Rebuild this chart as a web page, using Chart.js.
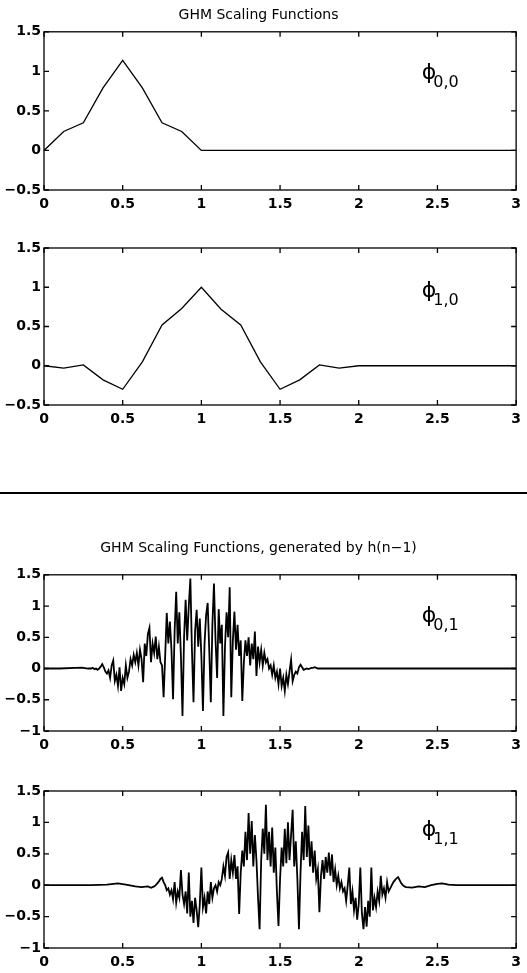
<!DOCTYPE html>
<html>
<head>
<meta charset="utf-8">
<script src="https://cdn.jsdelivr.net/npm/chart.js@4.4.0/dist/chart.umd.min.js"></script>
<style>
body { margin: 0; background: #fff; }
#page { position: relative; width: 527px; height: 973px; overflow: hidden; }
canvas { position: absolute; left: 0; }
#rule { position: absolute; left: 0; top: 492px; width: 527px; height: 2px; background: #000; }
</style>
</head>
<body>
<div id="page">
  <canvas id="c1" width="527" height="215" style="top:0px"></canvas>
  <canvas id="c2" width="527" height="216" style="top:214px"></canvas>
  <div id="rule"></div>
  <canvas id="c3" width="527" height="256" style="top:500px"></canvas>
  <canvas id="c4" width="527" height="217" style="top:756px"></canvas>
</div>
<script>
// tick labels
var xTicks = [0, 0.5, 1, 1.5, 2, 2.5, 3];
var yTicksTop = [-0.5, 0, 0.5, 1, 1.5];
var yTicksBottom = [-1, -0.5, 0, 0.5, 1, 1.5];

// phi_0,0 (first GHM scaling function)
var phi00X = [0, 0.125, 0.25, 0.375, 0.5, 0.625, 0.75, 0.875, 1, 3];
var phi00Y = [0, 0.24, 0.35, 0.79, 1.14, 0.79, 0.35, 0.24, 0, 0];

// phi_1,0
var phi10X = [0, 0.125, 0.25, 0.375, 0.5, 0.625, 0.75, 0.875, 1, 1.125, 1.25, 1.375, 1.5, 1.625, 1.75, 1.875, 2, 3];
var phi10Y = [0, -0.03, 0.01, -0.18, -0.3, 0.05, 0.52, 0.73, 1.0, 0.72, 0.52, 0.05, -0.3, -0.18, 0.01, -0.03, 0, 0];

// phi_0,1 (generated by h(n-1)): quiet tails + samples every 0.01 from 0.30 to 1.75
var phi01HeadX = [0, 0.1, 0.2, 0.24, 0.28];
var phi01HeadY = [0, 0, 0.01, 0.015, 0];
var phi01Start = 0.30, phi01Step = 0.01;
var phi01Y = [
  0, 0.01, -0.01, 0.00, -0.02, 0.00, 0.03, 0.07, 0.02, -0.05,
  -0.08, -0.03, -0.15, 0.05, 0.13, -0.20, -0.10, -0.28, 0.02, -0.36,
  -0.15, -0.25, 0.05, -0.15, -0.05, 0.15, 0.05, 0.22, 0.10, 0.25,
  0.05, 0.30, 0.15, -0.22, 0.40, 0.20, 0.55, 0.65, 0.10, 0.40,
  0.25, 0.51, 0.15, 0.35, 0.10, 0.05, -0.46, 0.20, 0.89, 0.40,
  0.75, 0.30, -0.49, 0.60, 1.23, 0.40, 0.90, 0.20, -0.76, 0.50,
  1.10, 0.45, 1.00, 1.44, 0.30, -0.54, 0.60, 0.94, 0.35, 0.80,
  0.20, -0.68, 0.40, 0.85, 1.05, 0.30, -0.54, 0.70, 1.36, 0.45,
  -0.15, 0.95, 0.40, 0.70, -0.76, 0.35, 0.90, 0.50, 1.30, -0.46,
  0.45, 0.91, 0.30, 0.70, 0.20, 0.45, -0.52, 0.10, 0.45, 0.20,
  0.50, 0.05, 0.40, 0.15, 0.59, -0.12, 0.35, 0.10, 0.30, 0.05,
  0.25, 0.10, 0.15, 0.00, 0.05, -0.10, 0.05, -0.15, -0.05, -0.25,
  0.00, -0.28, -0.15, -0.36, -0.10, -0.25, -0.05, 0.14, -0.20, -0.10,
  -0.05, -0.08, 0.02, 0.06, 0.02, -0.02, -0.01, 0.00, -0.01, 0.00,
  0.01, 0.01, 0.02, 0.01, 0.00, 0.00
];
var phi01TailX = [1.80, 3];
var phi01TailY = [0, 0];

// phi_1,1: samples every 0.01 from 0.70 to 2.30
var phi11HeadX = [0, 0.3, 0.4, 0.47, 0.52, 0.58, 0.62, 0.66, 0.68];
var phi11HeadY = [0, 0, 0.01, 0.03, 0.01, -0.02, -0.03, -0.02, -0.04];
var phi11Start = 0.70, phi11Step = 0.01;
var phi11Y = [
  -0.02, 0.00, 0.03, 0.06, 0.10, 0.12, 0.05, 0.00, -0.08, -0.05,
  -0.15, -0.08, -0.22, 0.05, -0.28, -0.10, -0.20, 0.24, -0.15, -0.30,
  -0.10, -0.45, 0.20, -0.50, -0.25, -0.60, -0.20, -0.40, -0.67, -0.30,
  0.28, -0.35, -0.20, -0.45, -0.10, -0.30, 0.05, -0.20, -0.05, 0.00,
  -0.10, 0.05, 0.00, 0.10, 0.30, 0.15, 0.45, 0.52, 0.10, 0.40,
  0.20, 0.48, 0.10, 0.30, -0.46, 0.20, 0.55, 0.30, 0.85, 0.40,
  1.15, 0.50, 1.02, 0.30, 0.80, 0.40, -0.20, -0.70, 0.40, 0.90,
  0.50, 1.28, 0.40, 0.85, 0.30, 0.92, 0.20, 0.60, -0.10, -0.65,
  0.10, 0.60, 0.30, 0.90, 0.35, 1.00, 0.40, 0.80, 1.20, 0.30,
  0.70, 0.10, -0.70, 0.20, 0.85, 0.40, 1.26, 0.45, 0.95, 0.30,
  0.70, 0.20, 0.55, 0.10, 0.25, -0.43, 0.15, 0.40, 0.10, 0.45,
  0.20, 0.52, 0.15, 0.49, 0.05, 0.25, 0.00, 0.15, -0.05, 0.05,
  -0.10, -0.05, -0.25, 0.00, 0.28, -0.30, -0.10, -0.40, -0.20, -0.55,
  -0.30, 0.28, -0.45, -0.70, -0.35, -0.66, -0.25, -0.50, 0.28, -0.40,
  -0.20, -0.35, -0.10, -0.25, 0.15, -0.15, -0.05, -0.20, 0.05, -0.10,
  -0.05, 0.00, 0.05, 0.08, 0.11, 0.13, 0.08, 0.03, 0.00, -0.02,
  -0.03
];
var phi11TailX = [2.34, 2.38, 2.42, 2.46, 2.5, 2.53, 2.57, 2.62, 3];
var phi11TailY = [-0.04, -0.02, -0.03, 0, 0.02, 0.03, 0.01, 0, 0];

function pairs(xs, ys) {
  return xs.map(function (x, i) { return { x: x, y: ys[i] }; });
}
function sampled(start, step, ys) {
  return ys.map(function (y, i) { return { x: +(start + i * step).toFixed(3), y: y }; });
}
function tickText(v) {
  return String(v).replace('-', '\u2212');
}

var font = '"DejaVu Sans", sans-serif';

// box round the plot with inward ticks on all four sides, plus the phi label
var framePlugin = {
  id: 'frame',
  afterDatasetsDraw: function (chart, args, opts) {
    var ctx = chart.ctx, a = chart.chartArea;
    var xs = chart.scales.x, ys = chart.scales.y;
    ctx.save();
    ctx.strokeStyle = '#000';
    ctx.lineWidth = 1.3;
    ctx.strokeRect(a.left, a.top, a.right - a.left, a.bottom - a.top);
    ctx.beginPath();
    xs.ticks.forEach(function (t) {
      var px = xs.getPixelForValue(t.value);
      ctx.moveTo(px, a.bottom); ctx.lineTo(px, a.bottom - 5);
      ctx.moveTo(px, a.top); ctx.lineTo(px, a.top + 5);
    });
    ys.ticks.forEach(function (t) {
      var py = ys.getPixelForValue(t.value);
      ctx.moveTo(a.left, py); ctx.lineTo(a.left + 5, py);
      ctx.moveTo(a.right, py); ctx.lineTo(a.right - 5, py);
    });
    ctx.stroke();

    var lx = xs.getPixelForValue(opts.x), ly = ys.getPixelForValue(opts.y);
    ctx.fillStyle = '#000';
    ctx.textBaseline = 'alphabetic';
    ctx.font = '22px ' + font;
    ctx.fillText('\u03D5', lx, ly);
    var w = ctx.measureText('\u03D5').width;
    ctx.font = '16px ' + font;
    ctx.fillText(opts.sub, lx + w - 3, ly + 8);
    ctx.restore();
  }
};

function makeChart(id, points, yMin, yTicks, title, padTop, label, lineW) {
  return new Chart(document.getElementById(id), {
    type: 'line',
    data: {
      datasets: [{
        data: points,
        borderColor: '#000',
        borderWidth: lineW,
        pointRadius: 0,
        tension: 0,
        fill: false
      }]
    },
    options: {
      responsive: false,
      animation: false,
      layout: { padding: { top: padTop, right: 10, bottom: 0, left: 0 } },
      plugins: {
        legend: { display: false },
        tooltip: { enabled: false },
        title: title ? {
          display: true,
          text: title.text,
          color: '#000',
          font: { family: font, size: 14, weight: 'normal' },
          padding: { top: title.top, bottom: title.bottom }
        } : { display: false },
        frame: label
      },
      scales: {
        x: {
          type: 'linear',
          min: 0,
          max: 3,
          afterBuildTicks: function (s) { s.ticks = xTicks.map(function (v) { return { value: v }; }); },
          grid: { display: false, drawTicks: false },
          border: { display: false },
          ticks: {
            color: '#000', font: { family: font, size: 14, weight: 'bold' },
            padding: 6, maxRotation: 0, autoSkip: false, callback: tickText
          },
          afterFit: function (s) { s.height = 25; }
        },
        y: {
          type: 'linear',
          min: yMin,
          max: 1.5,
          afterBuildTicks: function (s) { s.ticks = yTicks.map(function (v) { return { value: v }; }); },
          grid: { display: false, drawTicks: false },
          border: { display: false },
          ticks: {
            color: '#000', font: { family: font, size: 14, weight: 'bold' },
            padding: 3, callback: tickText
          },
          afterFit: function (s) { s.width = 44; }
        }
      }
    },
    plugins: [framePlugin]
  });
}

makeChart('c1', pairs(phi00X, phi00Y), -0.5, yTicksTop,
  { text: 'GHM Scaling Functions', top: 7, bottom: 8 }, 0,
  { x: 2.40, y: 0.905, sub: '0,0' }, 1.3);

makeChart('c2', pairs(phi10X, phi10Y), -0.5, yTicksTop, null, 34,
  { x: 2.40, y: 0.87, sub: '1,0' }, 1.3);

makeChart('c3',
  pairs(phi01HeadX, phi01HeadY).concat(sampled(phi01Start, phi01Step, phi01Y), pairs(phi01TailX, phi01TailY)),
  -1, yTicksBottom,
  { text: 'GHM Scaling Functions, generated by h(n\u22121)', top: 40, bottom: 18 }, 0,
  { x: 2.40, y: 0.75, sub: '0,1' }, 1.8);

makeChart('c4',
  pairs(phi11HeadX, phi11HeadY).concat(sampled(phi11Start, phi11Step, phi11Y), pairs(phi11TailX, phi11TailY)),
  -1, yTicksBottom, null, 35,
  { x: 2.40, y: 0.79, sub: '1,1' }, 1.8);
</script>
</body>
</html>
